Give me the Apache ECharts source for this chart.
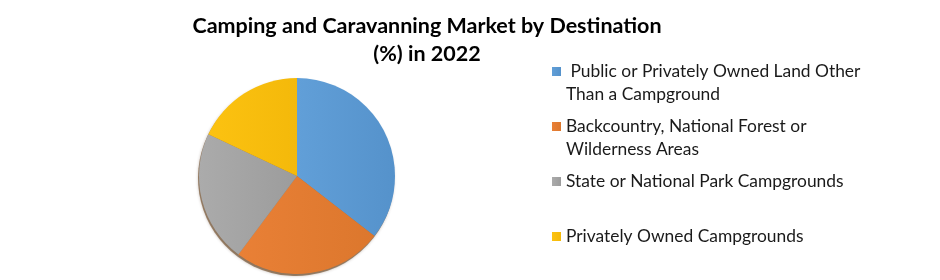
<!DOCTYPE html>
<html><head><meta charset="utf-8">
<script src="https://cdn.jsdelivr.net/npm/echarts@6/dist/echarts.min.js"></script>
<style>html,body{margin:0;padding:0;background:#fff}#c{width:940px;height:280px}</style>
</head><body><div id="c"></div>
<script>
const categories = [
  " Public or Privately Owned Land Other\nThan a Campground",
  "Backcountry, National Forest or\nWilderness Areas",
  "State or National Park Campgrounds",
  "Privately Owned Campgrounds"
];
const shares = [35.5, 24.7, 21.8, 18.0];
const colors = [["#619fd8", "#5592cb"], ["#e98036", "#dc772d"], ["#ababab", "#9c9c9c"], ["#fcc211", "#f4b90a"]];
const titleText = "Camping and Caravanning Market by Destination\n(%) in 2022";

const chart = echarts.init(document.getElementById('c'), null, {renderer: 'canvas'});
const iconPath = 'path://M0,0L9,0L9,9L0,9Z M0,32L9,32';
chart.setOption({
  animation: false,
  title: {
    text: titleText,
    left: 427, top: 12, textAlign: 'center', padding: 0,
    textStyle: {fontFamily: 'Lato', fontWeight: 'bold', fontSize: 21.5, color: '#000', lineHeight: 28}
  },
  legend: {
    orient: 'vertical', left: 552, top: 60, padding: 0,
    itemWidth: 9, itemHeight: 32, itemGap: 9,
    icon: iconPath,
    selectedMode: false,
    formatter: n => n.indexOf('\n') >= 0 ? n : n + '\n ',
    textStyle: {fontFamily: 'Lato', fontSize: 17.4, color: '#1a1a1a', lineHeight: 23},
    data: categories
  },
  series: [{
    type: 'pie', z: 2,
    center: [297, 176], radius: 98,
    startAngle: 90, clockwise: true,
    label: {show: false}, labelLine: {show: false},
    emphasis: {disabled: true},
    data: categories.map((c, i) => ({
      name: c, value: shares[i],
      itemStyle: {color: new echarts.graphic.LinearGradient(0, 0, 1, 0, [{offset: 0, color: colors[i][0]}, {offset: 1, color: colors[i][1]}])}
    }))
  }, {
    type: 'pie', silent: true, z: 1,
    center: [296, 178], radius: 98,
    startAngle: 90, clockwise: true,
    label: {show: false}, labelLine: {show: false},
    emphasis: {disabled: true},
    itemStyle: {color: 'rgba(90,50,10,0.55)', borderWidth: 0, shadowColor: 'rgba(60,30,0,0.5)', shadowBlur: 3},
    data: categories.map((c, i) => ({name: 'shadow ' + i, value: shares[i]}))
  }]
});
</script></body></html>
